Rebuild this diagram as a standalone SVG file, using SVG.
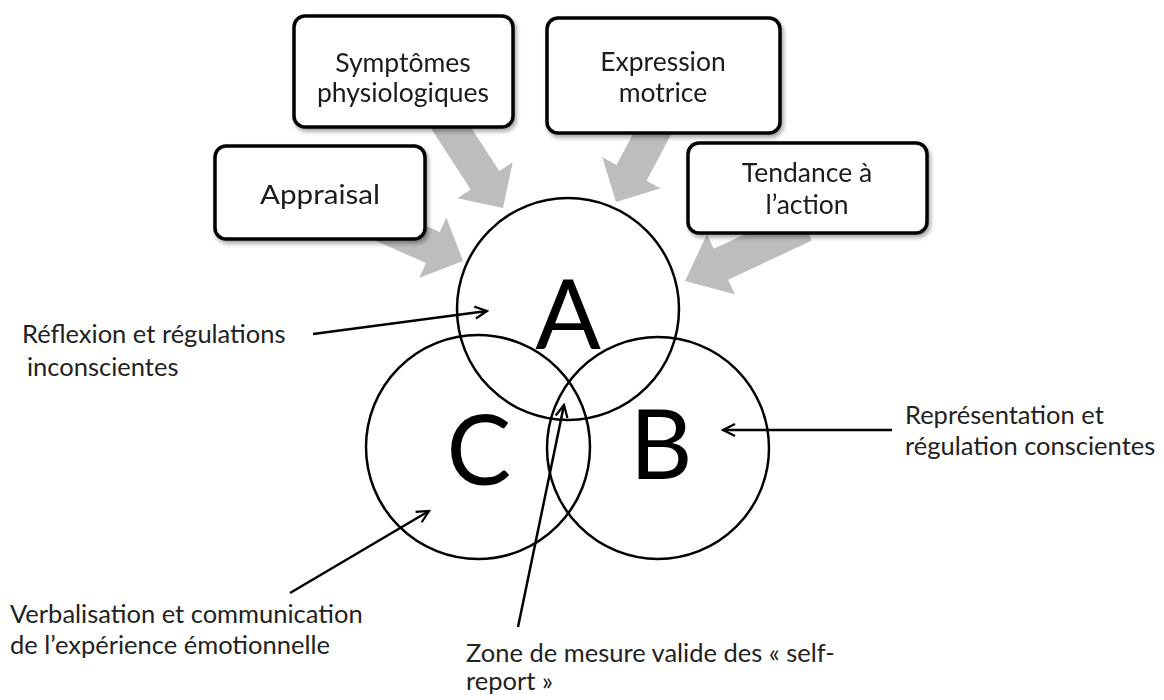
<svg xmlns="http://www.w3.org/2000/svg" width="1164" height="700" viewBox="0 0 1164 700">
  <style>
    .box { fill: #ffffff; stroke: #000000; stroke-width: 3.5; }
    .boxtxt { font-family: Lato, "Liberation Sans", sans-serif; font-size: 26.5px; fill: #1a1a1a; text-anchor: middle; }
    .lbl { font-family: Lato, "Liberation Sans", sans-serif; font-size: 25.5px; fill: #222222; }
    .circ { fill: none; stroke: #000000; stroke-width: 2.5; }
    .big { font-family: Lato, "Liberation Sans", sans-serif; font-size: 97px; fill: #000000; text-anchor: middle; }
    .garrow { fill: #bdbdbd; }
    .conn { stroke: #000000; stroke-width: 2.5; fill: none; marker-end: url(#head); }
  </style>
  <defs>
    <marker id="head" markerUnits="userSpaceOnUse" markerWidth="16" markerHeight="16" viewBox="0 0 16 16" refX="14" refY="8" orient="auto">
      <path d="M2,2 L14,8 L2,14" fill="none" stroke="#000000" stroke-width="2.2"/>
    </marker>
    <polygon id="blk" points="-110,-17 -33,-17 -33,-33 0,0 -33,33 -33,17 -110,17"/>
    <filter id="sh" x="-10%" y="-10%" width="125%" height="130%">
      <feGaussianBlur in="SourceAlpha" stdDeviation="2"/>
      <feOffset dx="2" dy="3" result="b"/>
      <feComponentTransfer><feFuncA type="linear" slope="0.35"/></feComponentTransfer>
      <feMerge><feMergeNode/><feMergeNode in="SourceGraphic"/></feMerge>
    </filter>
  </defs>
  <rect width="1164" height="700" fill="#ffffff"/>

  <g id="gray-arrows">
    <use href="#blk" class="garrow" transform="translate(503,208) rotate(57)"/>
    <use href="#blk" class="garrow" transform="translate(463,261) rotate(24)"/>
    <use href="#blk" class="garrow" transform="translate(616,202) rotate(118)"/>
    <use href="#blk" class="garrow" transform="translate(685,281) rotate(155) scale(1.2,1)"/>
  </g>

  <g id="box-symptomes" filter="url(#sh)">
    <rect class="box" x="294" y="16" width="219" height="111" rx="11"/>
    <text class="boxtxt" x="403" y="72">Symptômes</text>
    <text class="boxtxt" x="403" y="102">physiologiques</text>
  </g>
  <g id="box-expression" filter="url(#sh)">
    <rect class="box" x="547" y="18" width="233" height="115" rx="11"/>
    <text class="boxtxt" x="663" y="71">Expression</text>
    <text class="boxtxt" x="663" y="102">motrice</text>
  </g>
  <g id="box-appraisal" filter="url(#sh)">
    <rect class="box" x="215" y="146" width="210" height="93" rx="11"/>
    <text class="boxtxt" x="320" y="204" textLength="120" lengthAdjust="spacingAndGlyphs">Appraisal</text>
  </g>
  <g id="box-tendance" filter="url(#sh)">
    <rect class="box" x="688" y="143" width="239" height="90" rx="11"/>
    <text class="boxtxt" x="807" y="182">Tendance à</text>
    <text class="boxtxt" x="807" y="214">l’action</text>
  </g>

  <g id="circle-A">
    <circle class="circ" cx="568" cy="309" r="111"/>
    <text class="big" x="568" y="349">A</text>
  </g>
  <g id="circle-C">
    <circle class="circ" cx="478" cy="447" r="112"/>
    <text class="big" x="479" y="485">C</text>
  </g>
  <g id="circle-B">
    <circle class="circ" cx="658" cy="448" r="111"/>
    <text class="big" x="661" y="479">B</text>
  </g>

  <g id="connectors">
    <line class="conn" x1="313" y1="334" x2="487" y2="311"/>
    <line class="conn" x1="290" y1="593" x2="429" y2="511"/>
    <line class="conn" x1="518" y1="627" x2="564" y2="405"/>
    <line class="conn" x1="892" y1="430" x2="723" y2="430"/>
  </g>

  <g id="label-reflexion">
    <text class="lbl" x="22" y="343">Réflexion et régulations</text>
    <text class="lbl" x="27" y="376">inconscientes</text>
  </g>
  <g id="label-verbalisation">
    <text class="lbl" x="10" y="623">Verbalisation et communication</text>
    <text class="lbl" x="10" y="654">de l’expérience émotionnelle</text>
  </g>
  <g id="label-representation">
    <text class="lbl" x="905" y="424">Représentation et</text>
    <text class="lbl" x="905" y="455">régulation conscientes</text>
  </g>
  <g id="label-zone">
    <text class="lbl" x="466" y="662">Zone de mesure valide des « self-</text>
    <text class="lbl" x="466" y="690">report »</text>
  </g>
</svg>
